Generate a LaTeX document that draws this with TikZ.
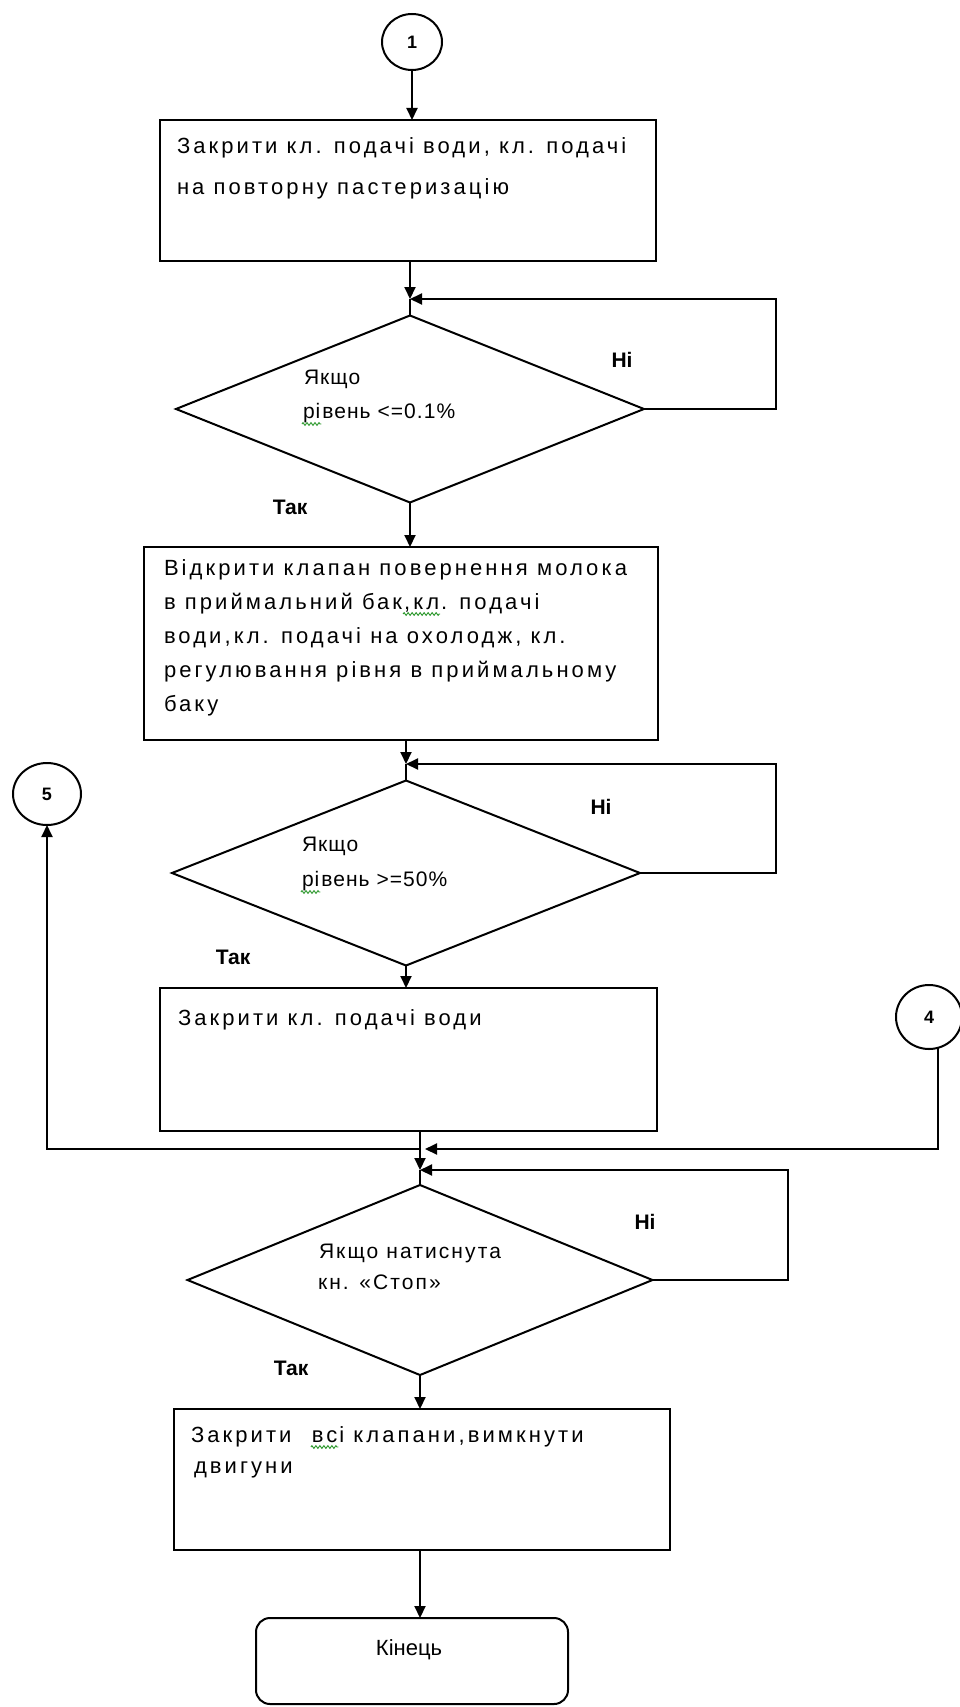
\documentclass[tikz,border=0pt]{standalone}
\usepackage{fontspec}
\setmainfont{Liberation Sans}
\newfontfamily\boxfont[LetterSpace=14]{Liberation Sans}
\newfontfamily\decfont[LetterSpace=5]{Liberation Sans}
\newfontfamily\decwfont[LetterSpace=10]{Liberation Sans}
\usetikzlibrary{arrows.meta,shapes.geometric,decorations.pathmorphing}
\definecolor{spellgreen}{RGB}{40,150,40}
\begin{document}
\begin{tikzpicture}[x=1pt,y=-1pt,
  line width=2pt,
  arr/.style={-{Triangle[length=12pt,width=11pt]}},
  proc/.style={draw, rectangle, inner sep=0pt, outer sep=0pt, anchor=north west},
  dec/.style={draw, diamond, inner sep=0pt, outer sep=0pt},
  conn/.style={draw, ellipse, inner sep=0pt, outer sep=0pt, font=\fontsize{18}{20}\selectfont\bfseries},
  term/.style={draw, rectangle, rounded corners=14pt, inner sep=0pt, outer sep=0pt, anchor=north west},
  btxt/.style={anchor=base west, inner sep=0pt, font=\fontsize{22}{26}\selectfont\boxfont},
  dtxt/.style={anchor=base west, inner sep=0pt, font=\fontsize{21}{24}\selectfont\decfont},
  dwtxt/.style={anchor=base west, inner sep=0pt, font=\fontsize{21}{24}\selectfont\decwfont},
  lbl/.style={inner sep=0pt, font=\fontsize{21}{24}\selectfont\bfseries},
  squig/.style={draw=spellgreen, line width=0.9pt, decorate,
    decoration={zigzag, segment length=4pt, amplitude=1.4pt}},
]
\useasboundingbox (0,0) rectangle (960,1707);

% connectors (circles)
\node[conn, minimum width=60pt, minimum height=56pt] (c1) at (412,42) {1};
\node[conn, minimum width=68pt, minimum height=62pt] (c5) at (47,794) {5};
\node[conn, minimum width=66pt, minimum height=64pt] (c4) at (929,1017) {4};

% process boxes
\node[proc, minimum width=496pt, minimum height=141pt] (b1) at (160,120) {};
\node[proc, minimum width=514pt, minimum height=193pt] (b2) at (144,547) {};
\node[proc, minimum width=497pt, minimum height=143pt] (b3) at (160,988) {};
\node[proc, minimum width=496pt, minimum height=141pt] (b4) at (174,1409) {};
\node[term, minimum width=312pt, minimum height=86pt] (t) at (256,1618) {};

% decisions
\node[dec, minimum width=468pt, minimum height=187pt] (d1) at (410,409) {};
\node[dec, minimum width=468pt, minimum height=185pt] (d2) at (406,873) {};
\node[dec, minimum width=465pt, minimum height=190pt] (d3) at (420,1280) {};

% junction coordinates
\coordinate (j1) at (410,299);
\coordinate (r1) at (776,299);
\coordinate (j2) at (406,764);
\coordinate (r2) at (776,764);
\coordinate (j4) at (420,1149);
\coordinate (j3) at (420,1170);
\coordinate (r3) at (788,1170);

% flow lines
\draw[arr] (c1.south) -- (c1.south |- b1.north);
\draw[arr] (b1.south -| j1) -- (j1);
\draw (j1) -- (d1.north);
\draw[arr] (d1.east) -| (r1) -- (j1);
\draw[arr] (d1.south) -- (d1.south |- b2.north);

\draw[arr] (b2.south -| j2) -- (j2);
\draw (j2) -- (d2.north);
\draw[arr] (d2.east) -| (r2) -- (j2);
\draw[arr] (d2.south) -- (d2.south |- b3.north);

\draw[arr] (b3.south -| j3) -- (j3);
\draw (j3) -- (d3.north);
\draw[arr] (d3.east) -| (r3) -- (j3);
\draw[arr] (j4) -| (c5.south);
\draw[arr, shorten >=5pt] (c4.-74) |- (j4);
\draw[arr] (d3.south) -- (d3.south |- b4.north);
\draw[arr] (b4.south -| j3) -- (t.north -| j3);

% labels
\node[lbl] (n1) at (622,360) {Ні};
\node[lbl] (y1) at (290,507) {Так};
\node[lbl] (n2) at (601,807) {Ні};
\node[lbl] (y2) at (233,957) {Так};
\node[lbl] (n3) at (645,1222) {Ні};
\node[lbl] (y3) at (291,1368) {Так};

% box texts
\node[btxt] (b1a) at (176,154) {Закрити кл. подачі води, кл. подачі};
\node[btxt] (b1b) at (176,195) {на повторну пастеризацію};
\node[btxt] (b2a) at (163,575) {Відкрити клапан повернення молока};
\node[btxt] (b2b) at (163,609) {в приймальний бак};
\node[btxt] (b2bs) at (b2b.base east) {,кл};
\node[btxt] (b2bt) at (b2bs.base east) {. подачі};
\node[btxt] (b2c) at (163,643) {води,кл. подачі на охолодж, кл.};
\node[btxt] (b2d) at (163,677) {регулювання рівня в приймальному};
\node[btxt] (b2e) at (163,711) {баку};
\node[btxt] (b3a) at (177,1025) {Закрити кл. подачі води};
\node[btxt] (b4a) at (190,1442) {Закрити\ \ \null};
\node[btxt] (b4as) at (b4a.base east) {вс};
\node[btxt] (b4at) at (b4as.base east) {і клапани,вимкнути};
\node[btxt] (b4b) at (193,1473) {двигуни};

% decision texts
\node[dtxt] (d1a) at (303,384) {Якщо};
\node[dtxt] (d1bs) at (302,418) {рі};
\node[dtxt] (d1b) at (d1bs.base east) {вень <=0.1\%};
\node[dtxt] (d2a) at (301,851) {Якщо};
\node[dtxt] (d2bs) at (301,886) {рі};
\node[dtxt] (d2b) at (d2bs.base east) {вень >=50\%};
\node[dwtxt] (d3a) at (318,1258) {Якщо натиснута};
\node[dwtxt] (d3b) at (317,1289) {кн. «Стоп»};

% spell-check marks
\draw[squig] ([yshift=-5pt]b2bs.base west) -- ([yshift=-5pt]b2bs.base east);
\draw[squig] ([yshift=-5pt]b4as.base west) -- ([yshift=-5pt]b4as.base east);
\draw[squig] ([yshift=-6pt]d1bs.base west) -- ([yshift=-6pt]d1bs.base east);
\draw[squig] ([yshift=-6pt]d2bs.base west) -- ([yshift=-6pt]d2bs.base east);

% terminal text
\node[inner sep=0pt, font=\fontsize{22}{26}\selectfont] (ta) at (409,1650) {Кінець};
\end{tikzpicture}
\end{document}
